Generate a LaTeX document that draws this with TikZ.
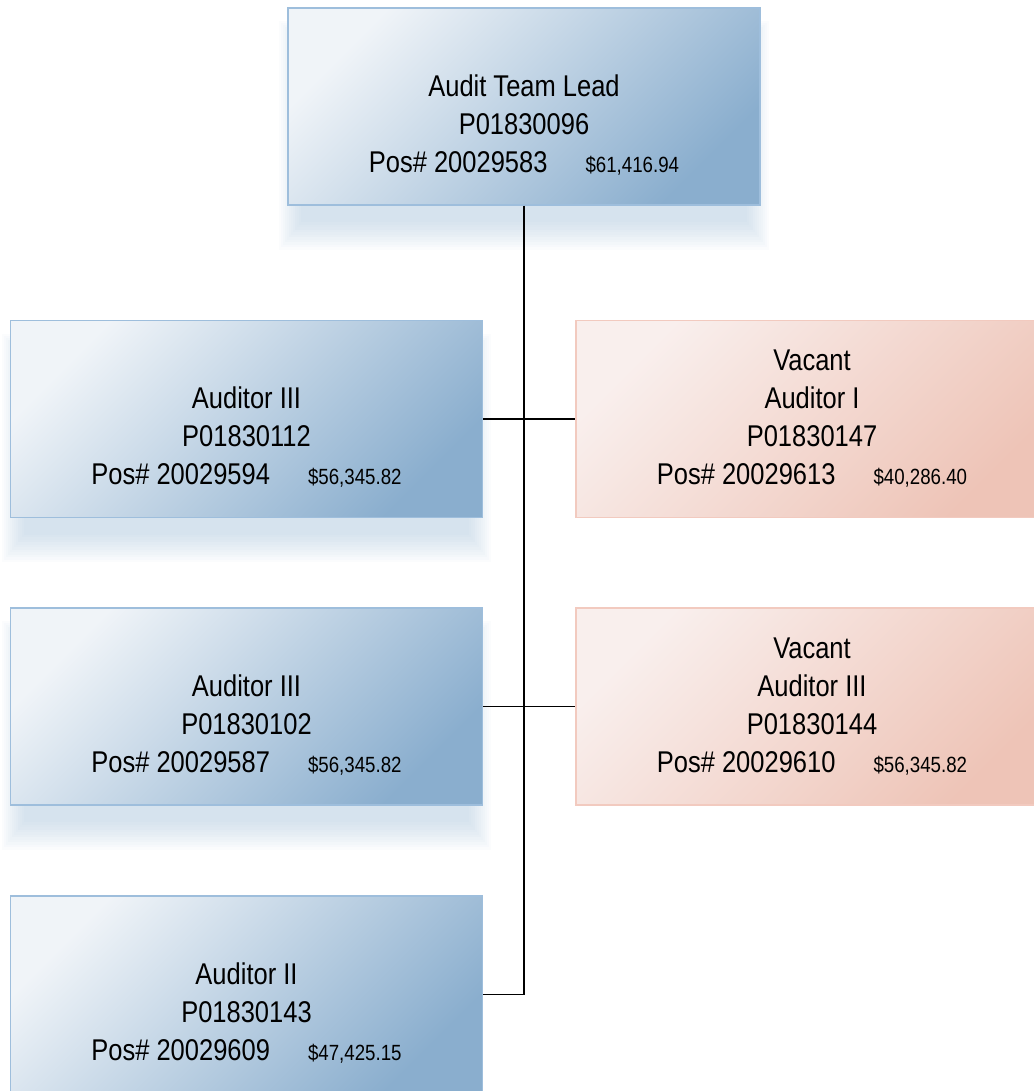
\documentclass[tikz,border=0pt]{standalone}
\usepackage{fontspec}
\setmainfont{Liberation Sans}[FakeStretch=0.85]
\usetikzlibrary{backgrounds}

\definecolor{bluelite}{HTML}{F0F4F8}
\definecolor{bluedark}{HTML}{8AAECE}
\definecolor{blueline}{HTML}{9EBEDC}
\definecolor{pinklite}{HTML}{F9EFED}
\definecolor{pinkdark}{HTML}{EEC4B7}
\definecolor{pinkline}{HTML}{F2CABF}

\newcommand{\salary}[1]{\hspace{38pt}{\fontsize{22}{38}\selectfont\$#1}}

\begin{document}
\begin{tikzpicture}[x=1pt, y=-1pt,
  posbox/.style={draw=blueline, line width=1.5pt, minimum width=472pt, minimum height=197pt,
    top color=bluelite, bottom color=bluedark, shading angle=45,
    align=center, inner sep=0pt, font=\fontsize{30}{38}\selectfont},
  vacantbox/.style={posbox, draw=pinkline, top color=pinklite, bottom color=pinkdark, shading angle=45},
  link/.style={line width=1.8pt}]
  \useasboundingbox (0,0) rectangle (1033,1091);

  % Team lead on top
  \node[posbox] (lead) at (524,106.5) {\phantom{V}\\Audit Team Lead\\P01830096\\Pos\# 20029583\salary{61,416.94}};

  % Left column
  \node[posbox] (aud3a) at (246.5,419) {\phantom{V}\\Auditor III\\P01830112\\Pos\# 20029594\salary{56,345.82}};
  \node[posbox] (aud3b) at (246.5,706.5) {\phantom{V}\\Auditor III\\P01830102\\Pos\# 20029587\salary{56,345.82}};
  \node[posbox] (aud2) at (246.5,994.5) {\phantom{V}\\Auditor II\\P01830143\\Pos\# 20029609\salary{47,425.15}};

  % Vacant positions on the right
  \node[vacantbox] (vac1) at (812,419) {Vacant\\Auditor I\\P01830147\\Pos\# 20029613\salary{40,286.40}};
  \node[vacantbox] (vac3) at (812,706.5) {Vacant\\Auditor III\\P01830144\\Pos\# 20029610\salary{56,345.82}};

  % Soft shadows under the blue boxes
  \begin{scope}[on background layer]
    \foreach \b in {lead,aud3a,aud3b}
      \foreach \k in {0,...,11}
        \fill[bluedark, opacity=0.035] ([shift={(-8+2*\k,14+2*\k)}]\b.north west)
          rectangle ([shift={(8-2*\k,44-2.5*\k)}]\b.south east);
  \end{scope}

  % Reporting lines
  \draw[link] (lead.south) -- (lead.south |- aud2.east) -- (aud2.east);
  \draw[link] (aud3a.east) -- (vac1.west);
  \draw[link] (aud3b.east) -- (vac3.west);
\end{tikzpicture}
\end{document}
